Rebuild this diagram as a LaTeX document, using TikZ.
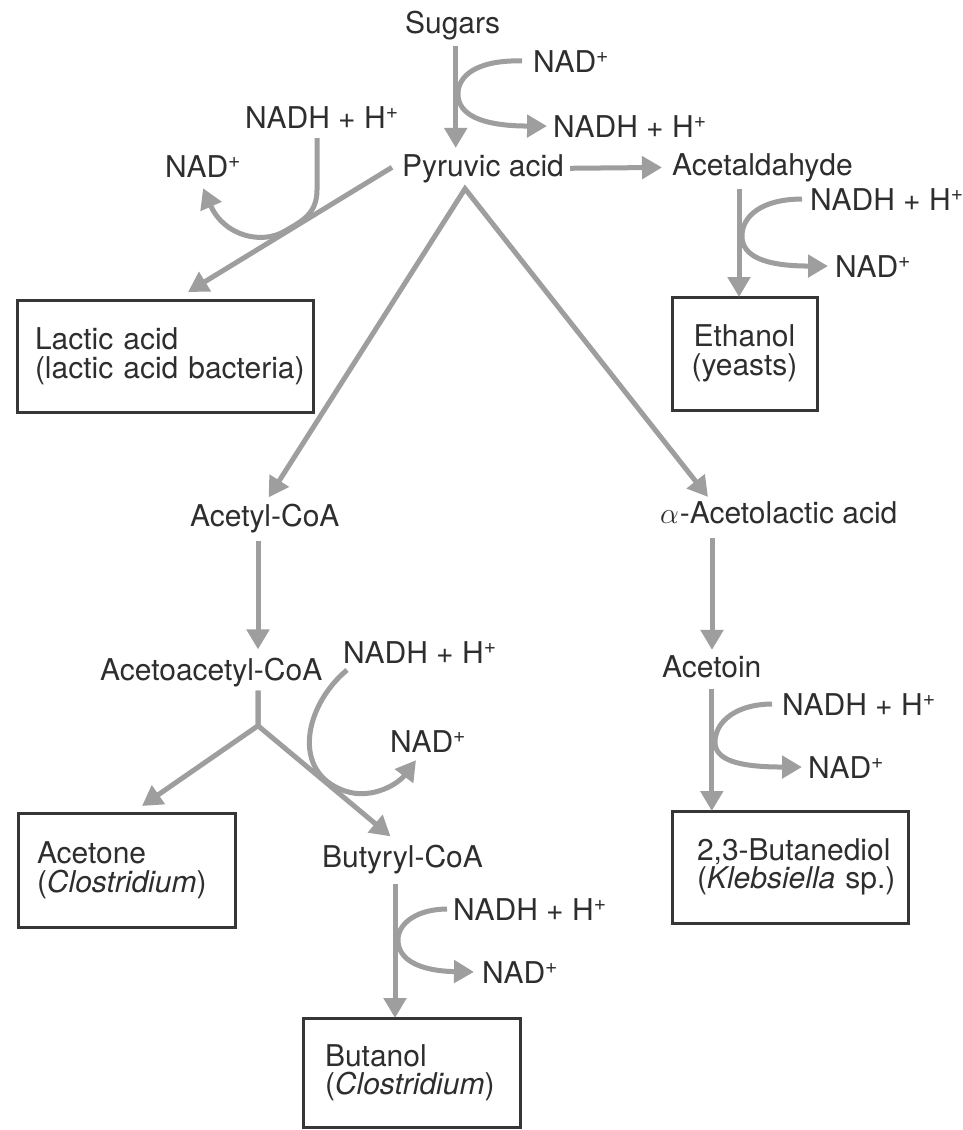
\documentclass[tikz,border=0pt]{standalone}
\usepackage{fontspec}
\setmainfont{TeX Gyre Heros}
\usetikzlibrary{arrows.meta,calc}
\definecolor{flowgray}{HTML}{9E9E9E}
\definecolor{ink}{HTML}{2E2E2E}
\definecolor{boxink}{HTML}{363636}
\begin{document}
\begin{tikzpicture}[x=1pt,y=-1pt,
  lbl/.style={inner sep=0pt, anchor=base west, text=ink, font=\fontsize{30}{28.5}\selectfont},
  prod/.style={draw=boxink, line width=3pt, rectangle, outer sep=0pt, anchor=north west, inner ysep=0pt, text=ink, font=\fontsize{30}{28.5}\selectfont, align=left},
  flow/.style={draw=flowgray, line width=5pt, -{Triangle[length=20pt,width=22pt]}},
  flowboth/.style={draw=flowgray, line width=5pt, {Triangle[length=20pt,width=22pt]}-{Triangle[length=20pt,width=22pt]}},
]
\fill[white] (0,0) rectangle (962,1130);
\useasboundingbox (0,0) rectangle (962,1130);

% ---- labels ----
\node[lbl] (sugars) at (405,33) {Sugars};
\node[lbl] (nadA) at (533,72) {NAD\textsuperscript{+}};
\node[lbl] (nadhA) at (553,137) {NADH + H\textsuperscript{+}};
\node[lbl] (nadhB) at (245,128) {NADH + H\textsuperscript{+}};
\node[lbl] (nadB) at (165,177) {NAD\textsuperscript{+}};
\node[lbl] (pyr) at (402,176) {Pyruvic acid};
\node[lbl] (acetal) at (672,175) {Acetaldahyde};
\node[lbl] (nadhC) at (810,210) {NADH + H\textsuperscript{+}};
\node[lbl] (nadC) at (835,277) {NAD\textsuperscript{+}};
\node[lbl] (acetyl) at (190,526) {Acetyl-CoA};
\node[lbl] (acetol) at (660,523) {\scalebox{1.2}{$\alpha$}\kern1pt-Acetolactic acid};
\node[lbl] (acac) at (100,680) {Acetoacetyl-CoA};
\node[lbl] (nadhD) at (343,663) {NADH + H\textsuperscript{+}};
\node[lbl] (nadD) at (390,752) {NAD\textsuperscript{+}};
\node[lbl] (butyryl) at (322,867) {Butyryl-CoA};
\node[lbl] (nadhE) at (453,920) {NADH + H\textsuperscript{+}};
\node[lbl] (nadE) at (482,983) {NAD\textsuperscript{+}};
\node[lbl] (acetoin) at (662,677) {Acetoin};
\node[lbl] (nadhF) at (782,715) {NADH + H\textsuperscript{+}};
\node[lbl] (nadF) at (808,778) {NAD\textsuperscript{+}};

% ---- product boxes ----
\node[prod, minimum width=296, minimum height=112, inner xsep=18pt, text width=260pt] (lactic) at (17,300)
  {\mbox{Lactic acid}\\\mbox{(lactic acid bacteria)}};
\node[prod, minimum width=145, minimum height=113, inner xsep=19pt, text width=107pt, align=center] (ethanol) at (672,297)
  {Ethanol\\(yeasts)};
\node[prod, minimum width=217, minimum height=114, inner xsep=19pt, text width=179pt] (acetone) at (18,813)
  {Acetone\\\mbox{(\textit{Clostridium})}};
\node[prod, minimum width=236, minimum height=112, inner xsep=25pt, text width=186pt] (diol) at (672,811)
  {\mbox{2,3-Butanediol}\\\mbox{(\textit{Klebsiella} sp.)}};
\node[prod, minimum width=217, minimum height=109, inner xsep=22pt, text width=173pt] (butanol) at (303,1018)
  {Butanol\\\mbox{(\textit{Clostridium})}};

% ---- helper coordinates ----
\coordinate (sgOut) at ($(sugars.south)+(3,6)$);
\coordinate (vtop) at ($(pyr.south)+(-18,6)$);
\coordinate (alOut) at ($(acetal.south west)+(67,7)$);
\coordinate (acOut) at ($(acetyl.south west)+(68,8)$);
\coordinate (acacOut) at ($(acac.south west)+(158,4)$);
\coordinate (branch) at ($(acacOut)+(0,35)$);
\coordinate (olOut) at ($(acetol.south west)+(52,14)$);
\coordinate (buOut) at ($(butyryl.south west)+(73,10)$);

% ---- main connectors ----
\draw[flow, shorten >=6pt] (sgOut) -- (sgOut |- pyr.north);
\draw[flow, shorten <=6pt, shorten >=10pt] (pyr.east) -- (acetal.west);
\draw[flow] (alOut) -- (alOut |- ethanol.north);
\draw[flow] ($(pyr.west)+(-10,-1)$) -- ($(lactic.north)+(23,-8)$);
\draw[flowboth, shorten <=7pt] (acetyl.north) -- (vtop) -- ($(acetol.north west)+(48,-4)$);
\draw[flow, shorten >=8pt] (acOut) -- (acOut |- acac.north);
\draw[flow] (acacOut) -- (branch) -- ($(acetone.north)+(15.5,-7)$);
\draw[flow] (acacOut) -- (branch) -- ($(butyryl.north)+(-12,-8)$);
\draw[flow, shorten >=5pt] (olOut) -- (olOut |- acetoin.north);
\draw[flow, shorten <=11pt] (acetoin.south) -- (acetoin.south |- diol.north);
\draw[flow] (buOut) -- (buOut |- butanol.north);

% ---- cofactor loops ----
\draw[flow, shorten <=11pt, shorten >=6pt] (nadA.west) .. controls (476,60) and (458,76) .. (458,94)
  .. controls (458,114) and (480,126) .. (nadhA.west);
\draw[flow] ($(nadhB.base west)+(72,10)$) -- (317,190) .. controls (317,215) and (300,222) .. (285,231)
  .. controls (262,245) and (224,236) .. ($(nadB.south)+(0,11)$);
\draw[flow, shorten <=8pt, shorten >=7pt] (nadhC.west) .. controls (762,199) and (742,216) .. (742,236)
  .. controls (742,256) and (764,266) .. (nadC.west);
\draw[flow] ($(nadhD.base west)+(4,7)$) .. controls (305,705) and (290,772) .. (345,791)
  .. controls (372,800) and (398,784) .. ($(nadD.south west)+(26,8)$);
\draw[flow, shorten <=6pt, shorten >=8pt] (nadhE.west) .. controls (419,909) and (398,922) .. (398,940)
  .. controls (398,960) and (420,971) .. (nadE.west);
\draw[flow, shorten <=10pt, shorten >=6pt] (nadhF.west) .. controls (736,704) and (715,722) .. (715,742)
  .. controls (715,760) and (738,767) .. (nadF.west);
\end{tikzpicture}
\end{document}
